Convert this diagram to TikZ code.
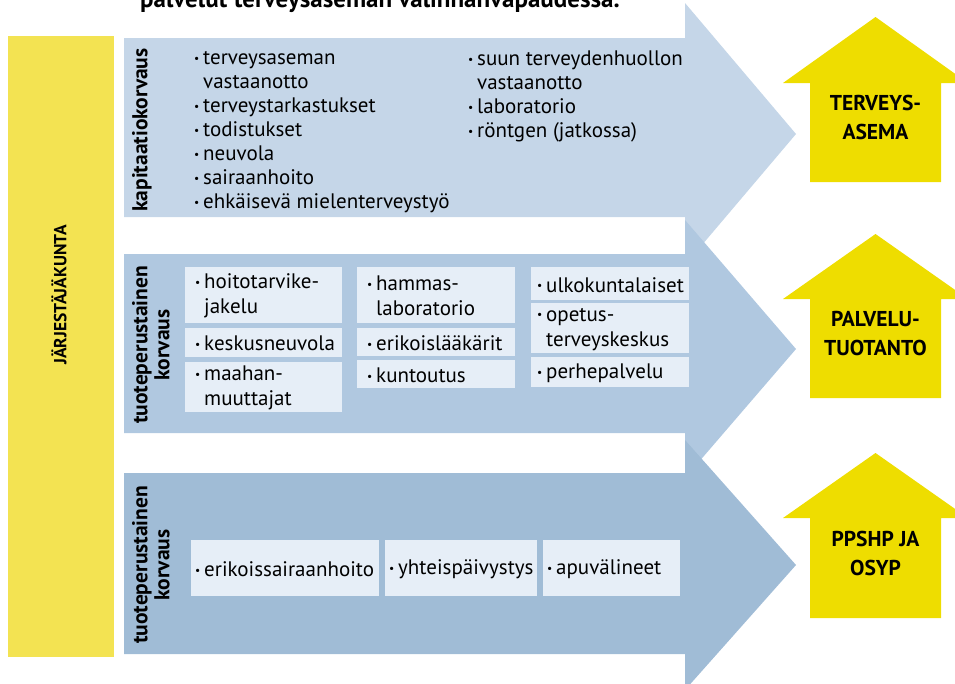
\documentclass[tikz,border=0pt]{standalone}
\usepackage{fontspec}
\setmainfont{PT Sans}
\usetikzlibrary{calc}
\usetikzlibrary{positioning}
\definecolor{barYellow}{RGB}{243,227,82}
\definecolor{houseYellow}{RGB}{238,221,0}
\definecolor{arrowA}{RGB}{197,214,232}
\definecolor{arrowB}{RGB}{176,200,224}
\definecolor{arrowC}{RGB}{160,188,214}
\definecolor{itemBox}{RGB}{230,238,247}
\newcommand{\bul}{\makebox[9pt][l]{\raisebox{.1em}{\scalebox{.55}{•}}}}
\newcommand{\cont}{\hspace*{9pt}}

\begin{document}
\begin{tikzpicture}[x=1pt,y=-1pt,
  lista/.style={font=\fontsize{21}{24}\selectfont, inner sep=0pt, align=left},
  otsikko/.style={font=\fontsize{21.5}{22}\selectfont\bfseries, inner sep=0pt, align=center, rotate=90},
  laatikko/.style={fill=itemBox, inner sep=0pt, anchor=north west},
  talo/.style={font=\fontsize{21.5}{29}\selectfont\bfseries, inner sep=0pt, align=center}]
\useasboundingbox (0,0) rectangle (955,683);
\clip (0,0) rectangle (955,683);
\node[font=\fontsize{25}{26}\selectfont\bfseries, anchor=base west, inner sep=0pt] (otsikko) at (140,7) {palvelut terveysaseman valinnanvapaudessa.};
\fill[barYellow] (8,36) rectangle (114,657);
\node[otsikko, font=\fontsize{17.5}{18}\selectfont\bfseries] (kunta) at (59,295) {JÄRJESTÄJÄKUNTA};
\foreach \col/\bt/\bb/\ht/\hb in {arrowA/38/217/3/265, arrowB/254/433/220/478, arrowC/473/654/440/690} {
 \fill[\col] (124,\bt) -- (685,\bt) -- (685,\ht) -- (796,{(\ht+\hb)/2}) -- (685,\hb) -- (685,\bb) -- (124,\bb) -- cycle;
}
\node[otsikko] (kapit) at (142,130) {kapitaatiokorvaus};
\node[otsikko] (tuoteA) at (151,345) {tuoteperustainen\\korvaus};
\node[otsikko] (tuoteB) at (151,565) {tuoteperustainen\\korvaus};
\node[lista, anchor=north west] (sarakeA) at (194,51) {\bul terveysaseman\\\cont vastaanotto\\\bul terveystarkastukset\\\bul todistukset\\\bul neuvola\\\bul sairaanhoito\\\bul ehkäisevä mielenterveystyö};
\node[lista, anchor=north west] (sarakeB) at (468,51) {\bul suun terveydenhuollon\\\cont vastaanotto\\\bul laboratorio\\\bul röntgen (jatkossa)};
\foreach \nm/\x/\y/\w/\h/\dx/\t in {
  hoito/185/267/157/56/10/{\bul hoitotarvike-\\\cont jakelu},
  keskus/185/328/157/29/10/{\bul keskusneuvola},
  maahan/185/362/157/50/10/{\bul maahan-\\\cont muuttajat},
  hammas/357/267/158/56/10/{\bul hammas-\\\cont laboratorio},
  erikois/357/328/158/28/10/{\bul erikoislääkärit},
  kuntou/357/360/158/28/10/{\bul kuntoutus},
  ulko/531/267/158/33/6/{\bul ulkokuntalaiset},
  opetus/531/303/158/50/6/{\bul opetus-\\\cont terveyskeskus},
  perhe/531/357/158/30/6/{\bul perhepalvelu},
  esh/191/540/188/56/4/{\bul erikoissairaanhoito},
  yp/385/540/152/56/4/{\bul yhteispäivystys},
  apu/543/540/137/56/4/{\bul apuvälineet}} {
 \node[laatikko, minimum width=\w, minimum height=\h] (\nm) at (\x,\y) {};
 \node[lista, font=\fontsize{21}{25}\selectfont, anchor=west] (\nm-t) at ([xshift=\dx,yshift=-1]\nm.west) {\t};
}
\foreach \nm/\at/\ev/\bo/\t in {asema/17/83/182/{TERVEYS-\\ASEMA}, tuotanto/234/299/398/{PALVELU-\\TUOTANTO}, ppshp/453/518/618/{PPSHP JA\\OSYP}} {
 \fill[houseYellow] (783,\ev) -- (875.5,\at) -- (968,\ev) -- (941,\ev) -- (941,\bo) -- (810,\bo) -- (810,\ev) -- cycle;
 \node[talo] (\nm) at (875.5,{(\ev+\bo)/2-15}) {\t};
}
\end{tikzpicture}
\end{document}
